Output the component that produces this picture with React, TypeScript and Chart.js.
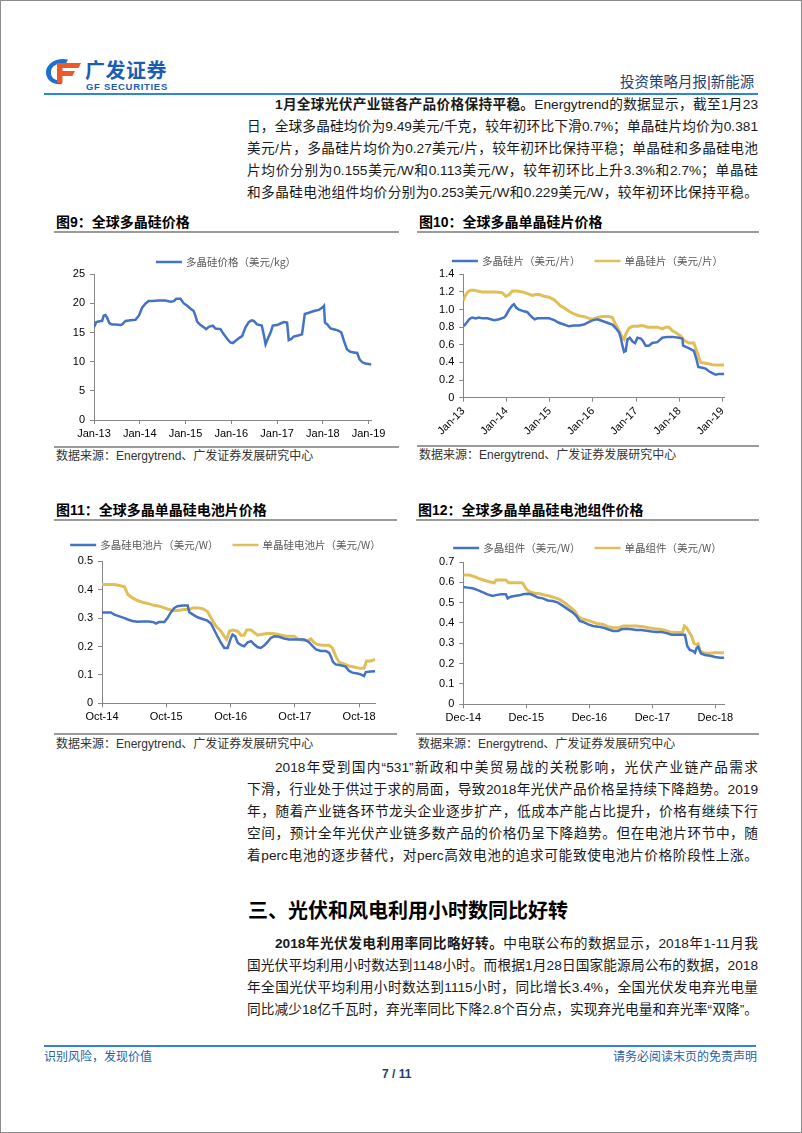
import React, { useEffect, useRef } from "react";
import { Chart, registerables } from "chart.js";

Chart.register(...registerables);

// ---------------- Figure 9: global polysilicon price (USD/kg) ----------------
const POLY_DATES = [
  "2013-01-01", "2013-01-19", "2013-02-23", "2013-03-07", "2013-03-19", "2013-04-02", "2013-04-15",
  "2013-05-04", "2013-05-25", "2013-06-21", "2013-08-01", "2013-08-13", "2013-09-10", "2013-10-19",
  "2013-11-28", "2013-12-25", "2014-01-21", "2014-02-17", "2014-03-13", "2014-04-09", "2014-06-02",
  "2014-07-25", "2014-09-03", "2014-10-01", "2014-10-19", "2014-11-22", "2014-12-19", "2015-01-15",
  "2015-02-11", "2015-03-07", "2015-03-21", "2015-04-04", "2015-05-01", "2015-05-27", "2015-06-15",
  "2015-07-06", "2015-08-07", "2015-08-28", "2015-10-07", "2015-11-03", "2015-12-01", "2015-12-25",
  "2016-01-14", "2016-02-05", "2016-03-06", "2016-03-28", "2016-04-24", "2016-05-20", "2016-06-11",
  "2016-06-29", "2016-07-25", "2016-09-01", "2016-09-19", "2016-10-01", "2016-10-22", "2016-11-10",
  "2016-11-28", "2017-01-03", "2017-02-01", "2017-02-25", "2017-03-22", "2017-04-04", "2017-04-25",
  "2017-05-13", "2017-06-18", "2017-07-19", "2017-08-10", "2017-09-12", "2017-10-21", "2017-12-01",
  "2017-12-28", "2018-01-10", "2018-01-18", "2018-02-06", "2018-03-03", "2018-04-12", "2018-05-08",
  "2018-05-29", "2018-06-18", "2018-07-13", "2018-08-09", "2018-09-05", "2018-10-02", "2018-10-21",
  "2018-11-12", "2018-12-07", "2019-01-03", "2019-01-23",
];
const POLY_PRICE = [
  15.9, 16.8, 17.0, 17.0, 17.9, 18.0, 17.6,
  16.6, 16.4, 16.4, 16.3, 16.4, 17.0, 17.1,
  17.2, 17.9, 19.3, 20.0, 20.4, 20.4, 20.5,
  20.5, 20.3, 20.4, 20.8, 20.8, 20.0, 19.6,
  19.1, 18.7, 17.9, 16.9, 16.3, 15.9, 15.6,
  16.0, 16.2, 15.7, 15.6, 14.7, 13.9, 13.3,
  13.2, 13.6, 14.1, 14.4, 15.9, 16.8, 17.1,
  17.0, 16.4, 16.2, 14.4, 13.0, 14.1, 15.0,
  16.2, 16.3, 16.6, 16.8, 16.7, 13.7, 13.9,
  14.3, 14.5, 14.7, 18.2, 18.4, 18.7, 18.9,
  19.3, 19.6, 16.7, 16.4, 15.7, 15.5, 15.3,
  15.0, 13.6, 12.1, 11.7, 11.6, 11.5, 10.4,
  9.9, 9.7, 9.6, 9.5,
];
const JAN_TICK_DATES = ["2013-01-01", "2014-01-01", "2015-01-01", "2016-01-01", "2017-01-01", "2018-01-01", "2019-01-01"];
const JAN_TICK_LABELS = ["Jan-13", "Jan-14", "Jan-15", "Jan-16", "Jan-17", "Jan-18", "Jan-19"];

// ---------------- Figure 10: wafer prices (USD/piece) ----------------
const WAFER_MULTI_DATES = [
  "2013-01-01", "2013-01-23", "2013-02-20", "2013-03-18", "2013-04-16", "2013-05-14", "2013-06-12",
  "2013-07-24", "2013-08-21", "2013-09-19", "2013-10-31", "2013-12-12", "2013-12-26", "2014-01-24",
  "2014-02-21", "2014-03-05", "2014-03-25", "2014-04-17", "2014-05-29", "2014-06-27", "2014-07-16",
  "2014-08-08", "2014-08-28", "2014-09-20", "2014-11-01", "2014-12-27", "2015-02-08", "2015-03-20",
  "2015-05-02", "2015-06-13", "2015-07-25", "2015-09-06", "2015-10-18", "2015-11-30", "2016-01-03",
  "2016-02-09", "2016-03-21", "2016-05-02", "2016-06-14", "2016-07-12", "2016-08-10", "2016-08-24",
  "2016-09-07", "2016-09-21", "2016-10-05", "2016-10-19", "2016-11-08", "2016-11-30", "2016-12-23",
  "2017-01-12", "2017-02-10", "2017-03-01", "2017-03-22", "2017-04-19", "2017-05-17", "2017-06-29",
  "2017-08-10", "2017-09-22", "2017-11-03", "2017-12-29", "2018-01-27", "2018-02-02", "2018-03-08",
  "2018-04-06", "2018-05-04", "2018-05-23", "2018-06-10", "2018-07-13", "2018-08-11", "2018-09-08",
  "2018-10-07", "2018-11-04", "2018-12-02", "2019-01-16",
];
const WAFER_MULTI = [
  0.81, 0.84, 0.89, 0.91, 0.90, 0.91, 0.90,
  0.90, 0.89, 0.88, 0.89, 0.91, 0.93, 1.00,
  1.05, 1.06, 1.02, 1.00, 0.98, 0.97, 0.94,
  0.91, 0.89, 0.90, 0.90, 0.90, 0.88, 0.85,
  0.83, 0.81, 0.82, 0.82, 0.83, 0.86, 0.88,
  0.89, 0.87, 0.85, 0.83, 0.79, 0.74, 0.68,
  0.59, 0.52, 0.53, 0.66, 0.68, 0.64, 0.62,
  0.68, 0.67, 0.64, 0.59, 0.59, 0.62, 0.63,
  0.68, 0.69, 0.69, 0.68, 0.67, 0.59, 0.57,
  0.55, 0.53, 0.45, 0.35, 0.34, 0.33, 0.30,
  0.28, 0.26, 0.27, 0.27,
];
const WAFER_MONO_DATES = [
  "2013-01-01", "2013-01-15", "2013-02-07", "2013-03-05", "2013-04-02", "2013-04-30", "2013-06-12",
  "2013-08-07", "2013-10-03", "2013-11-28", "2013-12-26", "2014-01-24", "2014-02-21", "2014-04-03",
  "2014-05-15", "2014-06-27", "2014-08-08", "2014-09-06", "2014-10-04", "2014-11-15", "2014-12-27",
  "2015-02-08", "2015-03-06", "2015-04-04", "2015-05-02", "2015-06-13", "2015-07-25", "2015-09-06",
  "2015-10-18", "2015-11-30", "2016-01-03", "2016-02-09", "2016-03-21", "2016-05-16", "2016-06-14",
  "2016-07-12", "2016-08-10", "2016-09-07", "2016-09-21", "2016-10-05", "2016-11-02", "2016-11-30",
  "2017-01-12", "2017-02-24", "2017-04-05", "2017-05-17", "2017-06-29", "2017-08-10", "2017-09-08",
  "2017-10-06", "2017-11-03", "2017-12-01", "2018-01-13", "2018-02-10", "2018-03-22", "2018-05-04",
  "2018-06-01", "2018-06-30", "2018-08-11", "2018-09-23", "2018-10-21", "2018-12-02", "2019-01-16",
];
const WAFER_MONO = [
  1.10, 1.15, 1.20, 1.22, 1.22, 1.21, 1.20,
  1.20, 1.20, 1.19, 1.15, 1.17, 1.21, 1.21,
  1.20, 1.18, 1.16, 1.17, 1.17, 1.15, 1.14,
  1.11, 1.08, 1.04, 1.02, 0.98, 0.95, 0.93,
  0.92, 0.90, 0.89, 0.91, 0.92, 0.92, 0.91,
  0.83, 0.76, 0.68, 0.66, 0.72, 0.79, 0.81,
  0.81, 0.82, 0.80, 0.80, 0.80, 0.78, 0.80,
  0.80, 0.76, 0.74, 0.70, 0.65, 0.62, 0.62,
  0.51, 0.40, 0.39, 0.38, 0.37, 0.37, 0.37,
];

// ---------------- Figure 11: cell prices (USD/W) ----------------
const CELL_MULTI_DATES = [
  "2014-10-01", "2014-10-23", "2014-11-21", "2014-12-10", "2015-01-08", "2015-02-06", "2015-02-25",
  "2015-03-23", "2015-04-21", "2015-05-19", "2015-06-26", "2015-07-24", "2015-08-03", "2015-08-22",
  "2015-09-20", "2015-10-08", "2015-10-27", "2015-11-16", "2015-12-04", "2016-01-02", "2016-01-31",
  "2016-02-09", "2016-02-28", "2016-03-27", "2016-04-24", "2016-05-22", "2016-06-11", "2016-06-30",
  "2016-07-18", "2016-08-07", "2016-08-26", "2016-09-14", "2016-10-03", "2016-10-12", "2016-10-27",
  "2016-11-10", "2016-11-29", "2016-12-17", "2017-01-06", "2017-01-25", "2017-02-13", "2017-03-02",
  "2017-03-21", "2017-04-09", "2017-04-28", "2017-05-17", "2017-06-05", "2017-07-03", "2017-08-01",
  "2017-08-29", "2017-09-27", "2017-10-25", "2017-11-23", "2017-12-21", "2018-01-10", "2018-01-29",
  "2018-02-26", "2018-03-25", "2018-04-13", "2018-04-23", "2018-05-06", "2018-05-21", "2018-06-18",
  "2018-07-16", "2018-08-05", "2018-08-24", "2018-09-22", "2018-10-10", "2018-10-29", "2018-11-08",
  "2018-12-07", "2019-01-01",
];
const CELL_MULTI = [
  0.320, 0.320, 0.320, 0.312, 0.306, 0.300, 0.295,
  0.290, 0.287, 0.288, 0.288, 0.285, 0.281, 0.286,
  0.286, 0.300, 0.320, 0.336, 0.342, 0.344, 0.344,
  0.321, 0.313, 0.303, 0.297, 0.291, 0.281, 0.258,
  0.236, 0.213, 0.195, 0.195, 0.231, 0.242, 0.236,
  0.213, 0.205, 0.201, 0.215, 0.219, 0.207, 0.198,
  0.195, 0.203, 0.215, 0.230, 0.236, 0.234, 0.228,
  0.225, 0.225, 0.225, 0.225, 0.215, 0.201, 0.190,
  0.184, 0.184, 0.178, 0.166, 0.145, 0.137, 0.134,
  0.129, 0.114, 0.108, 0.105, 0.102, 0.096, 0.110,
  0.112, 0.113,
];
const CELL_MONO_DATES = [
  "2014-10-01", "2014-11-02", "2014-12-10", "2015-01-08", "2015-02-06", "2015-02-25", "2015-03-23",
  "2015-04-21", "2015-05-19", "2015-06-26", "2015-07-24", "2015-08-22", "2015-09-20", "2015-10-18",
  "2015-11-16", "2015-12-14", "2016-01-12", "2016-02-09", "2016-02-28", "2016-03-27", "2016-04-24",
  "2016-05-22", "2016-06-11", "2016-07-09", "2016-08-07", "2016-08-26", "2016-09-08", "2016-09-24",
  "2016-10-12", "2016-11-10", "2016-11-29", "2016-12-17", "2016-12-31", "2017-01-25", "2017-02-13",
  "2017-03-02", "2017-03-31", "2017-04-28", "2017-05-27", "2017-06-24", "2017-07-23", "2017-08-20",
  "2017-09-27", "2017-10-16", "2017-11-14", "2017-12-12", "2017-12-31", "2018-01-19", "2018-02-07",
  "2018-03-06", "2018-04-13", "2018-05-02", "2018-05-21", "2018-06-09", "2018-07-07", "2018-08-05",
  "2018-09-03", "2018-10-10", "2018-10-29", "2018-11-12", "2018-12-07", "2019-01-01",
];
const CELL_MONO = [
  0.418, 0.418, 0.418, 0.415, 0.410, 0.383, 0.371,
  0.362, 0.356, 0.350, 0.345, 0.342, 0.336, 0.330,
  0.326, 0.328, 0.330, 0.330, 0.336, 0.336, 0.333,
  0.324, 0.301, 0.272, 0.254, 0.236, 0.225, 0.254,
  0.258, 0.254, 0.240, 0.240, 0.258, 0.258, 0.249,
  0.240, 0.243, 0.246, 0.246, 0.243, 0.239, 0.236,
  0.236, 0.227, 0.222, 0.221, 0.227, 0.213, 0.207,
  0.204, 0.204, 0.195, 0.166, 0.145, 0.139, 0.131,
  0.128, 0.123, 0.123, 0.149, 0.149, 0.155,
];
const OCT_TICK_DATES = ["2014-10-01", "2015-10-01", "2016-10-01", "2017-10-01", "2018-10-01"];
const OCT_TICK_LABELS = ["Oct-14", "Oct-15", "Oct-16", "Oct-17", "Oct-18"];

// ---------------- Figure 12: module prices (USD/W) ----------------
const MODULE_MULTI_DATES = [
  "2014-12-01", "2014-12-26", "2015-01-24", "2015-02-23", "2015-03-22", "2015-04-20", "2015-05-19",
  "2015-06-08", "2015-07-07", "2015-08-05", "2015-08-15", "2015-08-29", "2015-09-23", "2015-10-22",
  "2015-11-11", "2015-12-10", "2015-12-29", "2016-01-18", "2016-02-07", "2016-03-06", "2016-04-04",
  "2016-05-03", "2016-06-02", "2016-07-01", "2016-07-30", "2016-08-28", "2016-09-17", "2016-10-06",
  "2016-10-25", "2016-11-24", "2016-12-22", "2017-01-21", "2017-02-19", "2017-03-18", "2017-04-17",
  "2017-05-16", "2017-06-05", "2017-07-03", "2017-08-02", "2017-08-31", "2017-09-29", "2017-10-28",
  "2017-11-27", "2017-12-26", "2018-01-24", "2018-02-22", "2018-03-22", "2018-04-20", "2018-05-19",
  "2018-06-08", "2018-06-21", "2018-07-06", "2018-07-26", "2018-08-05", "2018-08-15", "2018-08-24",
  "2018-09-09", "2018-10-02", "2018-11-01", "2018-11-30", "2018-12-29", "2019-01-22",
];
const MODULE_MULTI = [
  0.577, 0.574, 0.571, 0.562, 0.552, 0.541, 0.533,
  0.537, 0.541, 0.541, 0.521, 0.528, 0.533, 0.536,
  0.541, 0.544, 0.541, 0.533, 0.525, 0.521, 0.511,
  0.508, 0.500, 0.484, 0.467, 0.451, 0.434, 0.410,
  0.405, 0.393, 0.385, 0.382, 0.377, 0.369, 0.361,
  0.361, 0.369, 0.372, 0.369, 0.365, 0.365, 0.362,
  0.358, 0.356, 0.356, 0.350, 0.342, 0.342, 0.342,
  0.341, 0.287, 0.267, 0.262, 0.254, 0.278, 0.283,
  0.250, 0.242, 0.239, 0.233, 0.229, 0.229,
];
const MODULE_MONO_DATES = [
  "2014-12-01", "2015-01-05", "2015-02-03", "2015-03-03", "2015-04-01", "2015-04-30", "2015-05-29",
  "2015-06-08", "2015-07-17", "2015-08-05", "2015-08-21", "2015-09-14", "2015-10-12", "2015-11-01",
  "2015-11-11", "2015-11-30", "2015-12-19", "2016-01-18", "2016-02-16", "2016-03-15", "2016-04-14",
  "2016-05-13", "2016-06-11", "2016-07-10", "2016-08-08", "2016-09-07", "2016-09-26", "2016-10-15",
  "2016-11-14", "2016-12-13", "2017-01-11", "2017-02-19", "2017-03-18", "2017-04-17", "2017-05-25",
  "2017-06-14", "2017-07-23", "2017-08-31", "2017-10-09", "2017-11-07", "2017-12-16", "2018-01-14",
  "2018-02-12", "2018-03-12", "2018-04-20", "2018-05-25", "2018-06-04", "2018-06-17", "2018-07-03",
  "2018-07-16", "2018-07-30", "2018-08-15", "2018-08-24", "2018-09-03", "2018-09-23", "2018-10-22",
  "2018-11-30", "2018-12-29", "2019-01-22",
];
const MODULE_MONO = [
  0.636, 0.636, 0.628, 0.618, 0.610, 0.603, 0.598,
  0.611, 0.611, 0.611, 0.598, 0.598, 0.598, 0.598,
  0.595, 0.568, 0.554, 0.546, 0.544, 0.538, 0.533,
  0.525, 0.516, 0.500, 0.480, 0.459, 0.434, 0.421,
  0.415, 0.407, 0.398, 0.393, 0.382, 0.377, 0.377,
  0.385, 0.385, 0.385, 0.382, 0.377, 0.372, 0.369,
  0.365, 0.356, 0.353, 0.353, 0.385, 0.377, 0.353,
  0.336, 0.300, 0.295, 0.298, 0.262, 0.254, 0.251,
  0.254, 0.254, 0.254,
];
const DEC_TICK_DATES = ["2014-12-01", "2015-12-01", "2016-12-01", "2017-12-01", "2018-12-01"];
const DEC_TICK_LABELS = ["Dec-14", "Dec-15", "Dec-16", "Dec-17", "Dec-18"];

// ---------------- styles ----------------
const BLUE = "#4472C4";
const GOLD = "#E0BF58";
const AXIS = "#868686";
const SANS = '"Liberation Sans", "Noto Sans CJK SC", Arial, sans-serif';
const CJK = '"Noto Sans CJK SC", "Liberation Sans", sans-serif';
const TEXT = "#1a1a1a";

type SeriesSpec = { label: string; dates: string[]; values: number[]; color: string; width: number };
type FigSpec = {
  series: SeriesSpec[];
  xMin: string;
  xMax: string;
  tickDates: string[];
  tickLabels: string[];
  yMax: number;
  yStep: number;
  rotate: boolean;
  canvas: { left: number; top: number; width: number; height: number };
  plot: { left: number; top: number; right: number; bottom: number };
  legend: { cx: number; cy: number };
};

const FIG9: FigSpec = {
  series: [{ label: "多晶硅价格（美元/kg）", dates: POLY_DATES, values: POLY_PRICE, color: BLUE, width: 2.5 }],
  xMin: "2013-01-01",
  xMax: "2019-01-26",
  tickDates: JAN_TICK_DATES,
  tickLabels: JAN_TICK_LABELS,
  yMax: 25,
  yStep: 5,
  rotate: false,
  canvas: { left: 45, top: 245, width: 355, height: 200 },
  plot: { left: 93, top: 273.3, right: 370.7, bottom: 419 },
  legend: { cx: 225, cy: 261 },
};
const FIG10: FigSpec = {
  series: [
    { label: "多晶硅片（美元/片）", dates: WAFER_MULTI_DATES, values: WAFER_MULTI, color: BLUE, width: 2.5 },
    { label: "单晶硅片（美元/片）", dates: WAFER_MONO_DATES, values: WAFER_MONO, color: GOLD, width: 3 },
  ],
  xMin: "2013-01-01",
  xMax: "2019-01-16",
  tickDates: JAN_TICK_DATES,
  tickLabels: JAN_TICK_LABELS,
  yMax: 1.4,
  yStep: 0.2,
  rotate: true,
  canvas: { left: 410, top: 245, width: 350, height: 197 },
  plot: { left: 462.3, top: 273.3, right: 723.3, bottom: 396.7 },
  legend: { cx: 586.5, cy: 260 },
};
const FIG11: FigSpec = {
  series: [
    { label: "多晶硅电池片（美元/W）", dates: CELL_MULTI_DATES, values: CELL_MULTI, color: BLUE, width: 2.5 },
    { label: "单晶硅电池片（美元/W）", dates: CELL_MONO_DATES, values: CELL_MONO, color: GOLD, width: 3 },
  ],
  xMin: "2014-10-01",
  xMax: "2019-01-01",
  tickDates: OCT_TICK_DATES,
  tickLabels: OCT_TICK_LABELS,
  yMax: 0.5,
  yStep: 0.1,
  rotate: false,
  canvas: { left: 50, top: 532, width: 350, height: 195 },
  plot: { left: 101, top: 560.3, right: 374.3, bottom: 702.3 },
  legend: { cx: 224.5, cy: 544 },
};
const FIG12: FigSpec = {
  series: [
    { label: "多晶组件（美元/W）", dates: MODULE_MULTI_DATES, values: MODULE_MULTI, color: BLUE, width: 2.5 },
    { label: "单晶组件（美元/W）", dates: MODULE_MONO_DATES, values: MODULE_MONO, color: GOLD, width: 3 },
  ],
  xMin: "2014-12-01",
  xMax: "2019-01-22",
  tickDates: DEC_TICK_DATES,
  tickLabels: DEC_TICK_LABELS,
  yMax: 0.7,
  yStep: 0.1,
  rotate: false,
  canvas: { left: 410, top: 532, width: 350, height: 195 },
  plot: { left: 462.3, top: 561, right: 723.3, bottom: 703.3 },
  legend: { cx: 586.5, cy: 547 },
};

function LineFigure({ spec }: { spec: FigSpec }) {
  const ref = useRef<HTMLCanvasElement | null>(null);
  useEffect(() => {
    const c = spec.canvas;
    const p = spec.plot;
    const yAxisW = p.left - c.left;
    const padTop = p.top - c.top;
    const padRight = c.left + c.width - p.right;
    const xAxisH = c.top + c.height - p.bottom;
    const tickMs = spec.tickDates.map((d) => Date.parse(d));
    const legendPlugin = {
      id: "figLegend",
      afterDraw(chart: any) {
        const ctx = chart.ctx;
        ctx.save();
        ctx.font = "10.5px " + CJK;
        ctx.textBaseline = "middle";
        ctx.textAlign = "left";
        const lineLen = 26;
        const gapLT = 4;
        const gapItems = 14;
        const items = chart.data.datasets.map((ds: any) => ({
          label: ds.label,
          color: ds.borderColor,
          w: ctx.measureText(ds.label).width,
        }));
        const total =
          items.reduce((s: number, it: any) => s + lineLen + gapLT + it.w, 0) + gapItems * (items.length - 1);
        let x = spec.legend.cx - c.left - total / 2;
        const y = spec.legend.cy - c.top;
        for (const it of items) {
          ctx.strokeStyle = it.color;
          ctx.lineWidth = 2.5;
          ctx.beginPath();
          ctx.moveTo(x, y);
          ctx.lineTo(x + lineLen, y);
          ctx.stroke();
          x += lineLen + gapLT;
          ctx.fillStyle = "#595959";
          ctx.fillText(it.label, x, y);
          x += it.w + gapItems;
        }
        ctx.restore();
      },
    };
    const tickFont = { family: SANS, size: 11 };
    const chart = new Chart(ref.current as HTMLCanvasElement, {
      type: "line",
      data: {
        datasets: spec.series.map((s) => ({
          label: s.label,
          data: s.dates.map((d, i) => ({ x: Date.parse(d), y: s.values[i] })),
          borderColor: s.color,
          backgroundColor: s.color,
          borderWidth: s.width,
          pointRadius: 0,
          pointHoverRadius: 0,
          tension: 0,
          fill: false,
        })),
      },
      options: {
        animation: false,
        responsive: false,
        devicePixelRatio: 1,
        layout: { padding: { left: 0, top: padTop, right: padRight, bottom: 0 } },
        plugins: { legend: { display: false }, tooltip: { enabled: false } },
        scales: {
          x: {
            type: "linear",
            min: Date.parse(spec.xMin),
            max: Date.parse(spec.xMax),
            afterBuildTicks: (s: any) => {
              s.ticks = tickMs.map((v) => ({ value: v }));
            },
            afterFit: (s: any) => {
              s.height = xAxisH;
            },
            grid: { drawOnChartArea: false, drawTicks: true, tickLength: 4, color: AXIS, lineWidth: 1 },
            border: { display: true, color: AXIS, width: 1 },
            ticks: {
              autoSkip: false,
              maxRotation: spec.rotate ? 45 : 0,
              minRotation: spec.rotate ? 45 : 0,
              padding: 3,
              color: "#000",
              font: tickFont,
              callback: (_v: any, i: number) => spec.tickLabels[i],
            },
          },
          y: {
            type: "linear",
            min: 0,
            max: spec.yMax,
            afterFit: (s: any) => {
              s.width = yAxisW;
            },
            grid: { drawOnChartArea: false, drawTicks: true, tickLength: 4, color: AXIS, lineWidth: 1 },
            border: { display: true, color: AXIS, width: 1 },
            ticks: { stepSize: spec.yStep, padding: 5, color: "#000", font: tickFont },
          },
        },
      } as any,
      plugins: [legendPlugin],
    });
    return () => chart.destroy();
  }, [spec]);
  return (
    <canvas
      ref={ref}
      width={spec.canvas.width}
      height={spec.canvas.height}
      style={{ position: "absolute", left: spec.canvas.left, top: spec.canvas.top, width: spec.canvas.width, height: spec.canvas.height }}
    />
  );
}

function Txt(props: any) {
  const { left, cy, size, lh, children, style } = props;
  const h = lh || Math.round(size * 1.5);
  return (
    <div
      style={{
        position: "absolute",
        left,
        top: cy - h / 2,
        height: h,
        lineHeight: h + "px",
        fontSize: size,
        whiteSpace: "nowrap",
        fontFamily: SANS,
        ...style,
      }}
    >
      {children}
    </div>
  );
}

function HLine({ x1, x2, y, color, h }: any) {
  return <div style={{ position: "absolute", left: x1, top: y - h / 2, width: x2 - x1, height: h, background: color }} />;
}

function JLine({ top, indent, children }: any) {
  const left = 246 + (indent ? 28 : 0);
  return (
    <div
      style={{
        position: "absolute",
        left,
        top,
        width: 757 - left,
        height: 22,
        lineHeight: "22px",
        fontSize: 13.7,
        fontFamily: SANS,
        color: TEXT,
        whiteSpace: "nowrap",
        textAlign: "justify",
        textAlignLast: "justify",
      }}
    >
      {children}
    </div>
  );
}

function FigFrame({ title, x1, x2, titleY, lineY, srcLineY, srcY }: any) {
  return (
    <>
      <Txt left={x1 + 2} cy={titleY} size={14} style={{ fontWeight: "bold", color: "#000" }}>
        {title}
      </Txt>
      <HLine x1={x1} x2={x2} y={lineY} color="#9a9a9a" h={1.5} />
      <HLine x1={x1} x2={x2} y={srcLineY} color="#9a9a9a" h={1.5} />
      <Txt left={x1 + 2} cy={srcY} size={12} style={{ color: "#333" }}>
        数据来源：Energytrend、广发证券发展研究中心
      </Txt>
    </>
  );
}

export default function App() {
  return (
    <div
      style={{
        position: "absolute",
        left: 0,
        top: 0,
        width: 802,
        height: 1133,
        boxSizing: "border-box",
        border: "1px solid #8c8c8c",
        background: "#fff",
        overflow: "hidden",
        fontFamily: SANS,
      }}
    >
      {/* header logo */}
      <svg style={{ position: "absolute", left: 44, top: 57 }} width={38} height={28} viewBox="0 0 38 28">
        <path
          d="M23 1.5 C 11 -1, 0.5 6, 1 15 C 1.5 22.5, 8 27, 17 26 L 14.5 22.5 C 8.5 22.5, 5.5 18.5, 6 13.5 C 6.5 7.5, 13 4.5, 21 5.5 Z"
          fill="#1f6fd0"
        />
        <path d="M12 5 L 36 5 L 33.5 10 L 17.5 10 L 17.5 13 L 30 13 L 27.5 18 L 17.5 18 L 17.5 25 L 12 25 Z" fill="#ea5a2a" />
      </svg>
      <Txt left={84} cy={69} size={20} style={{ fontFamily: CJK, fontWeight: "bold", color: "#1a5db4", letterSpacing: 0.5 }}>
        广发证券
      </Txt>
      <Txt left={85} cy={86} size={9.5} lh={12} style={{ fontWeight: "bold", color: "#1a5db4", letterSpacing: 0.7 }}>
        GF SECURITIES
      </Txt>
      <Txt left={619} cy={81} size={14.5} style={{ color: "#1f3f72" }}>
        投资策略月报|新能源
      </Txt>
      <HLine x1={43} x2={757} y={93} color="#2f86d6" h={2} />

      {/* paragraph 1 */}
      <JLine top={93} indent>
        <b>1月全球光伏产业链各产品价格保持平稳。</b>Energytrend的数据显示，截至1月23
      </JLine>
      <JLine top={115}>日，全球多晶硅均价为9.49美元/千克，较年初环比下滑0.7%；单晶硅片均价为0.381</JLine>
      <JLine top={137}>美元/片，多晶硅片均价为0.27美元/片，较年初环比保持平稳；单晶硅和多晶硅电池</JLine>
      <JLine top={159}>片均价分别为0.155美元/W和0.113美元/W，较年初环比上升3.3%和2.7%；单晶硅</JLine>
      <JLine top={181}>和多晶硅电池组件均价分别为0.253美元/W和0.229美元/W，较年初环比保持平稳。</JLine>

      {/* figures 9 & 10 */}
      <FigFrame title="图9：全球多晶硅价格" x1={53} x2={398} titleY={221} lineY={231} srcLineY={446} srcY={455} />
      <FigFrame title="图10：全球多晶单晶硅片价格" x1={416} x2={758} titleY={221} lineY={231} srcLineY={445} srcY={454} />
      <LineFigure spec={FIG9} />
      <LineFigure spec={FIG10} />

      {/* figures 11 & 12 */}
      <FigFrame title="图11：全球多晶单晶硅电池片价格" x1={53} x2={396} titleY={509} lineY={519} srcLineY={733} srcY={743} />
      <FigFrame title="图12：全球多晶单晶硅电池组件价格" x1={415} x2={758} titleY={509} lineY={519} srcLineY={733} srcY={743} />
      <LineFigure spec={FIG11} />
      <LineFigure spec={FIG12} />

      {/* paragraph 2 */}
      <JLine top={756} indent>
        2018年受到国内“531”新政和中美贸易战的关税影响，光伏产业链产品需求
      </JLine>
      <JLine top={778}>下滑，行业处于供过于求的局面，导致2018年光伏产品价格呈持续下降趋势。2019</JLine>
      <JLine top={800}>年，随着产业链各环节龙头企业逐步扩产，低成本产能占比提升，价格有继续下行</JLine>
      <JLine top={822}>空间，预计全年光伏产业链多数产品的价格仍呈下降趋势。但在电池片环节中，随</JLine>
      <JLine top={844}>着perc电池的逐步替代，对perc高效电池的追求可能致使电池片价格阶段性上涨。</JLine>

      {/* section heading */}
      <Txt left={247} cy={909} size={20} lh={28} style={{ fontFamily: CJK, fontWeight: "bold", color: "#000" }}>
        三、光伏和风电利用小时数同比好转
      </Txt>

      {/* paragraph 3 */}
      <JLine top={932} indent>
        <b>2018年光伏发电利用率同比略好转。</b>中电联公布的数据显示，2018年1-11月我
      </JLine>
      <JLine top={954}>国光伏平均利用小时数达到1148小时。而根据1月28日国家能源局公布的数据，2018</JLine>
      <JLine top={976}>年全国光伏平均利用小时数达到1115小时，同比增长3.4%，全国光伏发电弃光电量</JLine>
      <JLine top={998}>同比减少18亿千瓦时，弃光率同比下降2.8个百分点，实现弃光电量和弃光率“双降”。</JLine>

      {/* footer */}
      <HLine x1={43} x2={755} y={1045} color="#2f86d6" h={2} />
      <Txt left={43} cy={1056} size={12} style={{ color: "#1f5fa8" }}>
        识别风险，发现价值
      </Txt>
      <Txt left={612} cy={1056} size={12} style={{ color: "#1f5fa8" }}>
        请务必阅读末页的免责声明
      </Txt>
      <Txt left={381} cy={1073} size={12} style={{ color: "#1f3f72", fontWeight: "bold" }}>
        7 / 11
      </Txt>
    </div>
  );
}
